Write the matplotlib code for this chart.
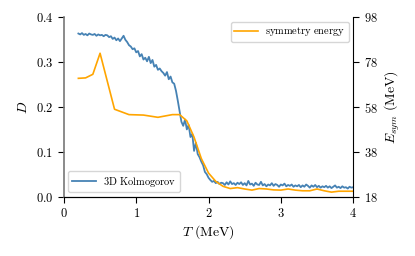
import numpy as np
import matplotlib
matplotlib.use("Agg")
import matplotlib.pyplot as plt
from matplotlib.ticker import FuncFormatter

plt.rcParams['mathtext.fontset'] = 'cm'
plt.rcParams['font.family'] = ['DejaVu Serif']

# 3D Kolmogorov distance D vs T
kol_T = np.linspace(0.2, 4.0, 153)
kol_D = [
    0.364, 0.362, 0.365, 0.361, 0.363, 0.360, 0.364, 0.362, 0.361, 0.363, 0.359, 0.362, 0.360, 0.361, 0.358, 0.361, 0.360,
    0.356, 0.358, 0.352, 0.355, 0.349, 0.353, 0.347, 0.353, 0.359, 0.350, 0.345, 0.338,
    0.335, 0.329, 0.331, 0.322, 0.325, 0.313, 0.318, 0.306, 0.310, 0.302, 0.312, 0.298, 0.305, 0.290, 0.294, 0.283,
    0.286, 0.280, 0.276, 0.270, 0.278, 0.262, 0.268, 0.255, 0.252, 0.236, 0.214, 0.190,
    0.167, 0.158, 0.172, 0.150, 0.160, 0.133, 0.140, 0.102, 0.120, 0.095, 0.088, 0.078, 0.070, 0.055, 0.050, 0.042,
    0.037, 0.033, 0.035, 0.030, 0.033, 0.028, 0.031, 0.030, 0.026, 0.032, 0.027, 0.034, 0.028, 0.030, 0.026, 0.031,
    0.028, 0.032, 0.026, 0.030, 0.025, 0.035, 0.027, 0.029, 0.024, 0.031, 0.027, 0.026, 0.033, 0.025, 0.028, 0.023,
    0.027, 0.025, 0.030, 0.024, 0.028, 0.026, 0.022, 0.027, 0.025, 0.029, 0.023, 0.026, 0.024, 0.027, 0.022, 0.025,
    0.023, 0.026, 0.021, 0.025, 0.022, 0.027, 0.024, 0.020, 0.025, 0.022, 0.026, 0.021, 0.024, 0.020, 0.023, 0.021,
    0.024, 0.020, 0.023, 0.019, 0.022, 0.025, 0.020, 0.022, 0.019, 0.023, 0.020, 0.021, 0.018, 0.022, 0.020, 0.021,
]

# symmetry energy (MeV) vs T
sym_T = [0.2, 0.3, 0.4, 0.5, 0.7, 0.9, 1.1, 1.3, 1.5, 1.6, 1.7, 1.8, 1.9, 2.0, 2.1, 2.2, 2.3,
         2.4, 2.5, 2.6, 2.7, 2.8, 2.9, 3.0, 3.1, 3.2, 3.3, 3.4, 3.5, 3.6, 3.7, 3.8, 3.9, 4.0]
sym_E = [70.8, 71.0, 72.6, 82.0, 57.0, 54.6, 54.4, 53.4, 54.6, 54.6, 51.8, 44.5, 35.0, 28.5, 24.8, 22.6, 21.6,
         22.0, 21.4, 20.9, 21.6, 21.4, 21.0, 20.9, 21.4, 20.9, 20.6, 20.6, 21.4, 20.6, 20.0, 20.4, 20.4, 20.4]

xticks = [0, 1, 2, 3, 4]
yticks_left = [0.0, 0.1, 0.2, 0.3, 0.4]
yticks_right = [18, 38, 58, 78, 98]

fig = plt.figure(figsize=(4.15, 2.56), dpi=100)
ax = fig.add_axes([0.154, 0.232, 0.697, 0.700])
ax2 = ax.twinx()

l1, = ax.plot(kol_T, kol_D, color='#4682b4', lw=1.3, label=r'$\mathrm{3D\ Kolmogorov}$')
l2, = ax2.plot(sym_T, sym_E, color='orange', lw=1.2, label=r'$\mathrm{symmetry\ energy}$')

ax.set_xlim(0, 4)
ax.set_ylim(0, 0.4)
ax2.set_ylim(18, 98)
ax.set_xticks(xticks)
ax.set_yticks(yticks_left)
ax2.set_yticks(yticks_right)

ax.xaxis.set_major_formatter(FuncFormatter(lambda v, p: r'$%d$' % v))
ax.yaxis.set_major_formatter(FuncFormatter(lambda v, p: r'$%.1f$' % v))
ax2.yaxis.set_major_formatter(FuncFormatter(lambda v, p: r'$%d$' % v))

for a in (ax, ax2):
    a.tick_params(labelsize=9, length=4, width=0.8, direction='out')
    a.spines['top'].set_visible(False)
ax.spines['left'].set_color('#777777')
ax.spines['left'].set_linewidth(1.2)
ax2.spines['left'].set_visible(False)
ax.spines['right'].set_visible(False)

ax.set_xlabel(r'$T\ \mathrm{(MeV)}$', fontsize=10, labelpad=2)
ax.set_ylabel(r'$D$', fontsize=10, labelpad=4)
ax2.set_ylabel(r'$E_{sym}\ \mathrm{(MeV)}$', fontsize=10, labelpad=4)

leg_kw = dict(fontsize=7.5, handlelength=2.3, handletextpad=0.7, borderpad=0.35,
              fancybox=True, framealpha=0.8, edgecolor='#cccccc', borderaxespad=0.4)
ax.legend(handles=[l1], loc='lower left', **leg_kw)
ax2.legend(handles=[l2], loc='upper right', **leg_kw)

fig.savefig('out.png', dpi=100)
